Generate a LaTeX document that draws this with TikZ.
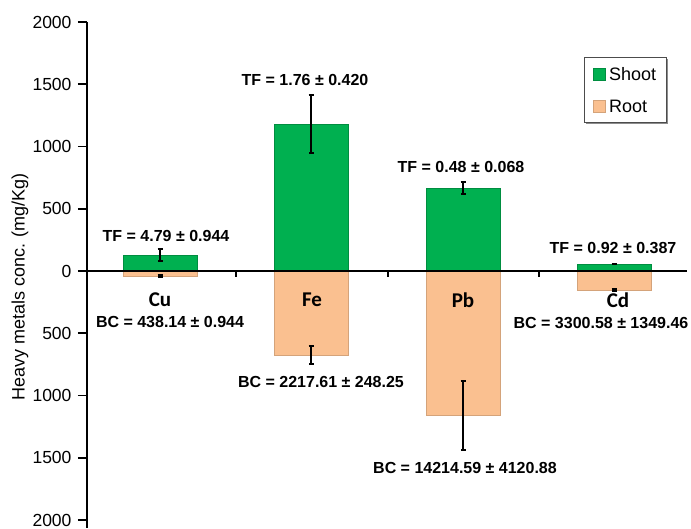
\documentclass[tikz,border=0pt]{standalone}
\usepackage{fontspec}
\setmainfont{Liberation Sans}
\newfontfamily\calib{Carlito}
\usepackage{tikz}
\usetikzlibrary{positioning, calc, arrows.meta}

\definecolor{shootgreen}{HTML}{00B050}
\definecolor{rootpeach}{HTML}{FAC090}

\begin{document}
\begin{tikzpicture}[x=1pt, y=1pt,
    shoot/.style={fill=shootgreen, draw=shootgreen!80!black, line width=0.6pt},
    root/.style={fill=rootpeach, draw=rootpeach!85!black, line width=0.6pt},
    errbar/.style={line width=1.8pt, {Bar[width=5pt]}-{Bar[width=5pt]}},
    ratio/.style={font=\bfseries\fontsize{16}{18}\selectfont},
    metal/.style={font=\calib\bfseries\fontsize{21}{24}\selectfont},
    ticklab/.style={font=\fontsize{17.5}{20}\selectfont, anchor=east}]
    \useasboundingbox (-87,-257) rectangle (604,271);
    \def\k{0.1245}

    % Bars with error bars
    \foreach \name/\cx/\s/\se/\r/\re in {cu/73/130/55/-40/15, fe/224/1180/240/-675/80,
        pb/376/667/57/-1160/285, cd/527/56/8/-155/15}
    {
      \draw[shoot] (\cx-37,0) rectangle (\cx+37,\s*\k);
      \draw[root] (\cx-37,0) rectangle (\cx+37,\r*\k);
      \draw[errbar] (\cx,{(\s-\se)*\k}) -- (\cx,{(\s+\se)*\k});
      \draw[errbar] (\cx,{(\r-\re)*\k}) -- (\cx,{(\r+\re)*\k});
    }

    % Axes
    \draw[line width=2.6pt] (0,249) -- (0,-257);
    \draw[line width=2.6pt] (0,0) -- (600,0);
    \foreach \v/\t in {2000/2000, 1500/1500, 1000/1000, 500/500, 0/0,
        -500/500, -1000/1000, -1500/1500, -2000/2000}
    {
      \draw[line width=1.8pt] (-9,\v*\k) -- (0,\v*\k);
      \node[ticklab] (tick\v) at (-12,\v*\k) {\t};
    }
    \foreach \x in {149, 301, 452}
      \draw[line width=1.8pt] (\x,0) -- (\x,-6);
    \node[rotate=90, font=\fontsize{18}{20}\selectfont] (ylab) at (-67,-16) {Heavy metals conc. (mg/Kg)};

    % Metal names
    \node[metal] (cu) at (73,-29) {Cu};
    \node[metal] (fe) at (225,-29) {Fe};
    \node[metal] (pb) at (376,-29) {Pb};
    \node[metal] (cd) at (531,-29) {Cd};

    % TF and BC labels
    \node[ratio] (tf-cu) at (79,35) {TF = 4.79 ± 0.944};
    \node[ratio] (tf-fe) at (218,191) {TF = 1.76 ± 0.420};
    \node[ratio] (tf-pb) at (374,104) {TF = 0.48 ± 0.068};
    \node[ratio] (tf-cd) at (526,23) {TF = 0.92 ± 0.387};
    \node[ratio] (bc-cu) at (83,-51) {BC = 438.14 ± 0.944};
    \node[ratio] (bc-fe) at (234,-111) {BC = 2217.61 ± 248.25};
    \node[ratio] (bc-pb) at (378,-197) {BC = 14214.59 ± 4120.88};
    \node[ratio] (bc-cd) at (514,-52) {BC = 3300.58 ± 1349.46};

    % Legend
    \fill[black!45] (499,212) rectangle (581,147);
    \draw[fill=white, line width=0.8pt, draw=black!70] (497,214) rectangle (579,149);
    \draw[shoot] (506,203) rectangle (518,191);
    \draw[root] (506,171) rectangle (518,159);
    \node[anchor=west, inner sep=0pt, font=\fontsize{18}{20}\selectfont] (leg-shoot) at (522,197) {Shoot};
    \node[anchor=west, inner sep=0pt, font=\fontsize{18}{20}\selectfont] (leg-root) at (522,165) {Root};
\end{tikzpicture}
\end{document}
